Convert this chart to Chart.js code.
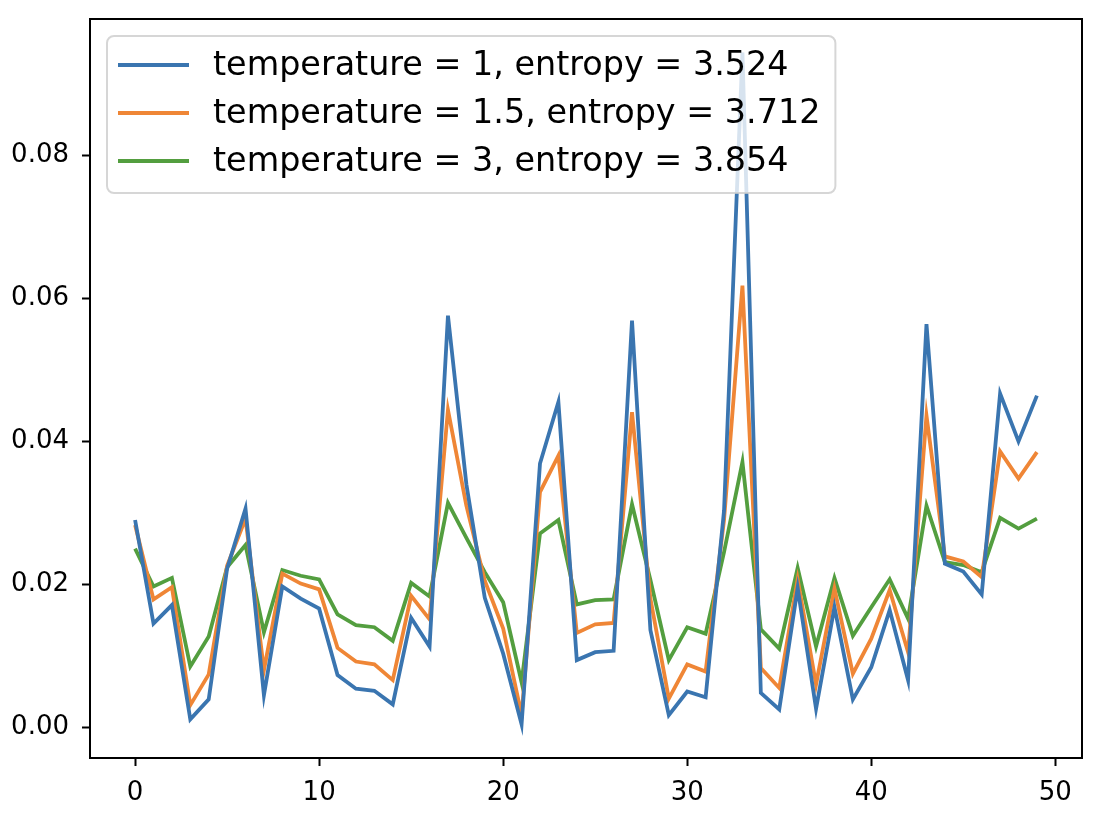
<!DOCTYPE html>
<html>
<head>
<meta charset="utf-8">
<title>temperature vs entropy</title>
<script src="https://cdn.jsdelivr.net/npm/chart.js@4.4.1/dist/chart.umd.min.js"></script>
<style>
  html, body { margin: 0; padding: 0; background: #fff; }
  #wrap { width: 1106px; height: 838px; }
</style>
</head>
<body>
<div id="wrap"><canvas id="chart" width="1106" height="838"></canvas></div>
<script>
// ---- data ----
const steps = Array.from({ length: 50 }, (_, i) => i);

const temperatures = [1, 1.5, 3];
const entropies = ['3.524', '3.712', '3.854'];

const probT1 = [
  0.0290, 0.0145, 0.0171, 0.0011, 0.0039, 0.0222, 0.0306, 0.0045, 0.0197, 0.0180,
  0.0166, 0.0073, 0.0054, 0.0051, 0.0032, 0.0153, 0.0113, 0.0576, 0.0340, 0.0181,
  0.0103, 0.0004, 0.0369, 0.0455, 0.0094, 0.0105, 0.0107, 0.0569, 0.0136, 0.0017,
  0.0050, 0.0042, 0.0303, 0.0944, 0.0048, 0.0025, 0.0195, 0.0026, 0.0168, 0.0039,
  0.0084, 0.0164, 0.0066, 0.0564, 0.0229, 0.0218, 0.0186, 0.0467, 0.0400, 0.0464
];
const probT15 = [
  0.0283, 0.0179, 0.0196, 0.0031, 0.0074, 0.0226, 0.0292, 0.0080, 0.0215, 0.0201,
  0.0193, 0.0111, 0.0092, 0.0088, 0.0066, 0.0184, 0.0151, 0.0444, 0.0310, 0.0205,
  0.0138, 0.0017, 0.0329, 0.0380, 0.0132, 0.0144, 0.0146, 0.0441, 0.0180, 0.0040,
  0.0088, 0.0078, 0.0290, 0.0618, 0.0083, 0.0055, 0.0207, 0.0060, 0.0194, 0.0075,
  0.0124, 0.0192, 0.0105, 0.0436, 0.0239, 0.0232, 0.0210, 0.0386, 0.0348, 0.0385
];
const probT3 = [
  0.0250, 0.0197, 0.0209, 0.0085, 0.0127, 0.0224, 0.0255, 0.0133, 0.0220, 0.0212,
  0.0207, 0.0158, 0.0143, 0.0140, 0.0121, 0.0202, 0.0183, 0.0314, 0.0265, 0.0217,
  0.0175, 0.0063, 0.0271, 0.0290, 0.0172, 0.0178, 0.0179, 0.0312, 0.0206, 0.0094,
  0.0140, 0.0131, 0.0245, 0.0371, 0.0137, 0.0110, 0.0223, 0.0113, 0.0209, 0.0128,
  0.0168, 0.0207, 0.0152, 0.0310, 0.0231, 0.0227, 0.0217, 0.0293, 0.0278, 0.0292
];

const xTicks = [0, 10, 20, 30, 40, 50];
const yTicks = [0, 0.02, 0.04, 0.06, 0.08];

// ---- styling ----
const COLORS = ['#3a75b0', '#ef8636', '#539e3f'];
const FONT = 'DejaVu Sans';
const TICK_SIZE = 26;
const LEGEND_SIZE = 33.4;
const LINE_W = 3.8;

// matplotlib-like 5% auto margins
function padRange(lo, hi) {
  const m = (hi - lo) * 0.05;
  return [lo - m, hi + m];
}
const allVals = probT1.concat(probT15, probT3);
const [yMin, yMax] = padRange(Math.min(...allVals), Math.max(...allVals));
const [xMin, xMax] = padRange(steps[0], steps[steps.length - 1]);

const series = [probT1, probT15, probT3];
const datasets = series.map((vals, i) => ({
  label: `temperature = ${temperatures[i]}, entropy = ${entropies[i]}`,
  data: vals,
  borderColor: COLORS[i],
  backgroundColor: COLORS[i],
  borderWidth: LINE_W,
  pointRadius: 0,
  tension: 0,
  fill: false,
  borderJoinStyle: 'miter'
}));

/* frame + matplotlib style legend, drawn over the lines */
const framePlugin = {
  id: 'frame',
  afterDatasetsDraw(chart) {
    const { ctx, chartArea: a } = chart;
    ctx.save();
    ctx.strokeStyle = '#000';
    ctx.lineWidth = 2;
    ctx.strokeRect(a.left, a.top, a.right - a.left, a.bottom - a.top);

    // legend box
    ctx.font = `${LEGEND_SIZE}px "${FONT}"`;
    const labels = chart.data.datasets.map(d => d.label);
    const textW = Math.max(...labels.map(t => ctx.measureText(t).width));
    const bx = a.left + 17, by = a.top + 17;
    const rowH = 48;
    const handleX = bx + 11, handleW = 71, textX = bx + 106;
    const bw = textX - bx + textW + 15;
    const bh = 29 + rowH * (labels.length - 1) + 32;

    ctx.beginPath();
    ctx.roundRect(bx, by, bw, bh, 7);
    ctx.fillStyle = 'rgba(255,255,255,0.8)';
    ctx.fill();
    ctx.strokeStyle = 'rgba(204,204,204,0.8)';
    ctx.lineWidth = 2;
    ctx.stroke();

    ctx.textBaseline = 'middle';
    ctx.textAlign = 'left';
    labels.forEach((t, i) => {
      const cy = by + 29 + i * rowH;
      ctx.beginPath();
      ctx.moveTo(handleX, cy);
      ctx.lineTo(handleX + handleW, cy);
      ctx.strokeStyle = chart.data.datasets[i].borderColor;
      ctx.lineWidth = LINE_W;
      ctx.stroke();
      ctx.fillStyle = '#000';
      ctx.fillText(t, textX, cy + 1);
    });
    ctx.restore();
  }
};

new Chart(document.getElementById('chart'), {
  type: 'line',
  data: { labels: steps, datasets },
  options: {
    responsive: false,
    animation: false,
    layout: { padding: { top: 19, right: 24, left: 0, bottom: 0 } },
    plugins: {
      legend: { display: false },
      tooltip: { enabled: false }
    },
    scales: {
      x: {
        type: 'linear',
        min: xMin,
        max: xMax,
        afterBuildTicks: s => { s.ticks = xTicks.map(v => ({ value: v })); },
        afterFit: s => { s.height = 80; s.paddingLeft = 0; s.paddingRight = 0; },
        grid: { drawOnChartArea: false, drawTicks: true, tickLength: 8, tickWidth: 2, tickColor: '#000' },
        border: { color: '#000', width: 2 },
        ticks: {
          color: '#000',
          font: { family: FONT, size: TICK_SIZE },
          padding: 12,
          maxRotation: 0,
          autoSkip: false,
          callback: v => String(v)
        }
      },
      y: {
        min: yMin,
        max: yMax,
        afterBuildTicks: s => { s.ticks = yTicks.map(v => ({ value: v })); },
        afterFit: s => { s.width = 90; s.paddingTop = 0; s.paddingBottom = 0; },
        grid: { drawOnChartArea: false, drawTicks: true, tickLength: 8, tickWidth: 2, tickColor: '#000' },
        border: { color: '#000', width: 2 },
        ticks: {
          color: '#000',
          font: { family: FONT, size: TICK_SIZE },
          padding: 13,
          autoSkip: false,
          callback: v => v.toFixed(2)
        }
      }
    }
  },
  plugins: [framePlugin]
});
</script>
</body>
</html>
